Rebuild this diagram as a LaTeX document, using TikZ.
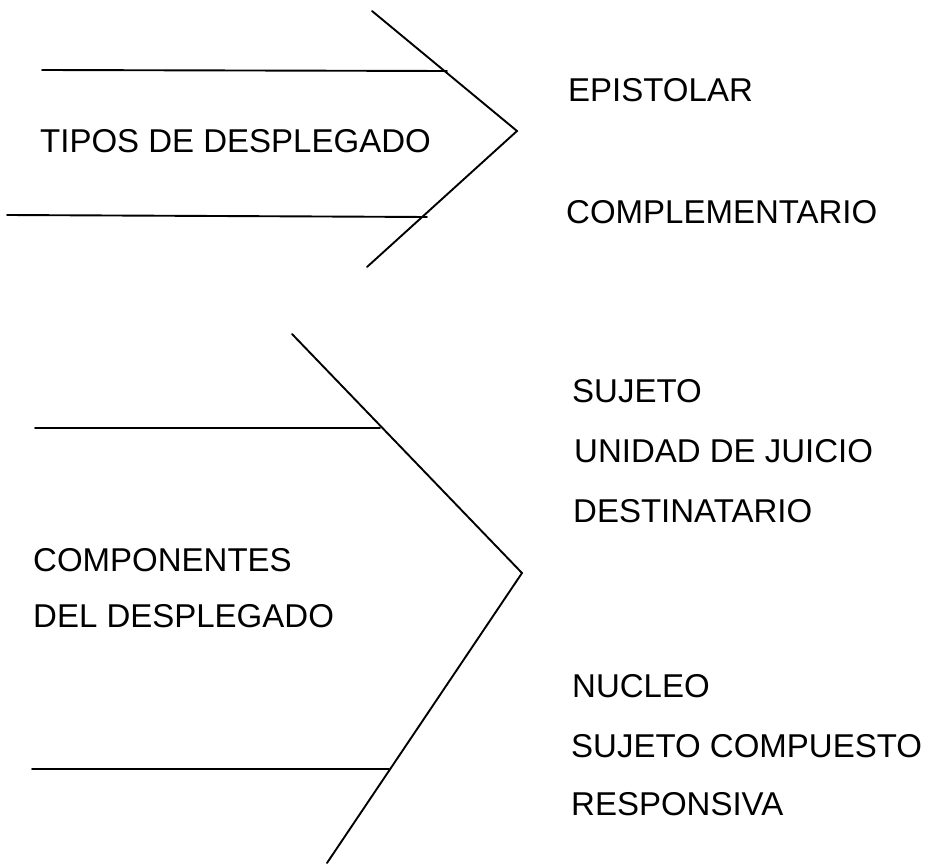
\documentclass[tikz,border=0pt]{standalone}
\usepackage{fontspec}
\setmainfont{Liberation Sans}
\begin{document}
\begin{tikzpicture}[x=1pt,y=-1pt,
  lbl/.style={anchor=base west,inner sep=0pt,font=\fontsize{33}{39}\selectfont},
  stroke/.style={line width=1.9pt,line cap=round,line join=miter}]
\useasboundingbox (0,0) rectangle (927,864);
% --- top figure ---
\coordinate (t1s) at (42,70);
\coordinate (t1e) at (447,71);
\coordinate (t2s) at (7,215);
\coordinate (t2e) at (427,217);
\coordinate (ta) at (372,11);
\coordinate (tp) at (517,131);
\coordinate (tb) at (367,267);
\draw[stroke] (t1s) -- (t1e);
\draw[stroke] (t2s) -- (t2e);
\draw[stroke] (ta) -- (tp) -- (tb);
\node[lbl] (tipos) at (40,153) {TIPOS DE DESPLEGADO};
\node[lbl] (epis) at (568,102) {EPISTOLAR};
\node[lbl] (compl) at (566,223) {COMPLEMENTARIO};
% --- bottom figure ---
\coordinate (b1s) at (35,428);
\coordinate (b1e) at (380,428);
\coordinate (b2s) at (32,769);
\coordinate (b2e) at (389,769);
\coordinate (ba) at (292,334);
\coordinate (bp) at (522,573);
\coordinate (bb) at (327,863);
\draw[stroke] (b1s) -- (b1e);
\draw[stroke] (b2s) -- (b2e);
\draw[stroke] (ba) -- (bp) -- (bb);
\node[lbl] (comp) at (33,571) {COMPONENTES};
\node[lbl] (del) at (33,627) {DEL DESPLEGADO};
\node[lbl] (suj) at (572,402) {SUJETO};
\node[lbl] (uni) at (574,462) {UNIDAD DE JUICIO};
\node[lbl] (dest) at (573,522) {DESTINATARIO};
\node[lbl] (nuc) at (572,697) {NUCLEO};
\node[lbl] (sujc) at (571,757) {SUJETO COMPUESTO};
\node[lbl] (resp) at (571,815) {RESPONSIVA};
\end{tikzpicture}
\end{document}
